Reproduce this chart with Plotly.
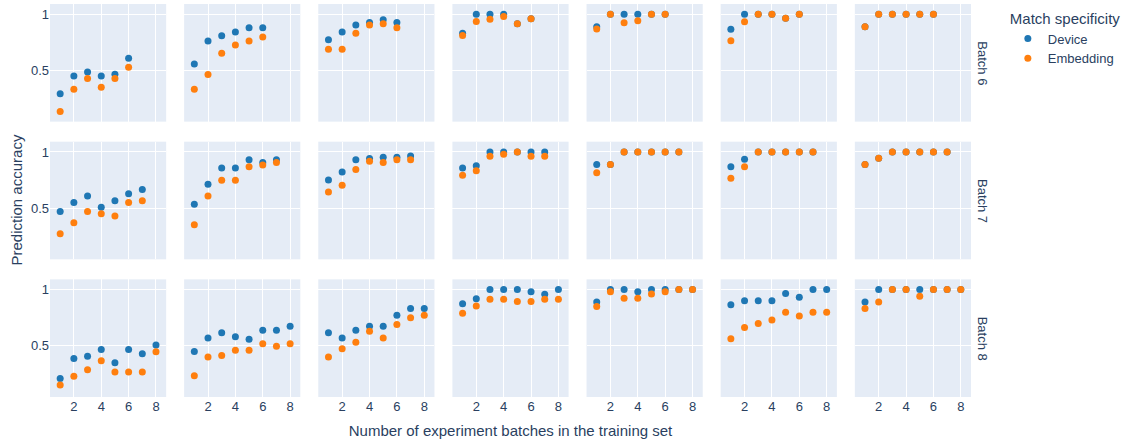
import plotly.graph_objects as go
from plotly.subplots import make_subplots

batches = ["Batch 6", "Batch 7", "Batch 8"]
series_names = ["Device", "Embedding"]
colors = ["#1f77b4", "#ff7f0e"]

# values[batch][column] -> list of accuracies at x = 1..n
device = {
    "Batch 6": [
        [0.294, 0.451, 0.488, 0.451, 0.468, 0.608],
        [0.558, 0.762, 0.808, 0.843, 0.881, 0.881],
        [0.773, 0.843, 0.904, 0.927, 0.951, 0.927],
        [0.831, 1.0, 1.0, 1.0, 0.916, 0.959],
        [0.890, 1.0, 1.0, 1.0, 1.0, 1.0],
        [0.866, 1.0, 1.0, 1.0, 0.965, 1.0],
        [0.890, 1.0, 1.0, 1.0, 1.0, 1.0],
    ],
    "Batch 7": [
        [0.471, 0.550, 0.608, 0.509, 0.567, 0.629, 0.667],
        [0.535, 0.713, 0.857, 0.857, 0.930, 0.906, 0.930],
        [0.751, 0.822, 0.930, 0.942, 0.953, 0.953, 0.965],
        [0.857, 0.877, 1.0, 1.0, 1.0, 1.0, 1.0],
        [0.889, 0.889, 1.0, 1.0, 1.0, 1.0, 1.0],
        [0.868, 0.936, 1.0, 1.0, 1.0, 1.0, 1.0],
        [0.889, 0.944, 1.0, 1.0, 1.0, 1.0, 1.0],
    ],
    "Batch 8": [
        [0.211, 0.389, 0.409, 0.468, 0.351, 0.468, 0.430, 0.509],
        [0.450, 0.570, 0.617, 0.582, 0.558, 0.640, 0.640, 0.675],
        [0.617, 0.570, 0.640, 0.675, 0.675, 0.772, 0.833, 0.833],
        [0.874, 0.918, 1.0, 1.0, 1.0, 0.980, 0.959, 1.0],
        [0.889, 1.0, 1.0, 0.980, 1.0, 1.0, 1.0, 1.0],
        [0.865, 0.901, 0.901, 0.901, 0.965, 0.933, 1.0, 1.0],
        [0.889, 1.0, 1.0, 1.0, 1.0, 1.0, 1.0, 1.0],
    ],
}
embedding = {
    "Batch 6": [
        [0.137, 0.334, 0.430, 0.352, 0.430, 0.529],
        [0.334, 0.465, 0.654, 0.727, 0.762, 0.797],
        [0.689, 0.689, 0.831, 0.904, 0.916, 0.881],
        [0.811, 0.936, 0.956, 0.980, 0.916, 0.959],
        [0.869, 1.0, 0.924, 0.942, 1.0, 1.0],
        [0.765, 0.933, 1.0, 1.0, 0.965, 1.0],
        [0.890, 1.0, 1.0, 1.0, 1.0, 1.0],
    ],
    "Batch 7": [
        [0.272, 0.371, 0.471, 0.450, 0.430, 0.550, 0.567],
        [0.354, 0.608, 0.749, 0.749, 0.868, 0.883, 0.906],
        [0.643, 0.705, 0.845, 0.918, 0.906, 0.930, 0.930],
        [0.792, 0.833, 0.962, 0.980, 1.0, 0.962, 0.962],
        [0.816, 0.889, 1.0, 1.0, 1.0, 1.0, 1.0],
        [0.766, 0.868, 1.0, 1.0, 1.0, 1.0, 1.0],
        [0.889, 0.944, 1.0, 1.0, 1.0, 1.0, 1.0],
    ],
    "Batch 8": [
        [0.152, 0.231, 0.289, 0.368, 0.269, 0.269, 0.269, 0.447],
        [0.234, 0.401, 0.415, 0.462, 0.462, 0.520, 0.497, 0.520],
        [0.401, 0.474, 0.532, 0.629, 0.570, 0.690, 0.749, 0.772],
        [0.789, 0.854, 0.915, 0.915, 0.895, 0.895, 0.915, 0.915],
        [0.851, 0.982, 0.924, 0.924, 0.962, 0.982, 1.0, 1.0],
        [0.564, 0.664, 0.699, 0.731, 0.798, 0.766, 0.798, 0.798],
        [0.833, 0.889, 1.0, 1.0, 0.942, 1.0, 1.0, 1.0],
    ],
}

n_cols = 7
fig = make_subplots(rows=3, cols=n_cols, shared_xaxes=True, shared_yaxes=True,
                    horizontal_spacing=0.0195, vertical_spacing=0.051)

for r, b in enumerate(batches, start=1):
    for c in range(n_cols):
        for s, (name, data) in enumerate(zip(series_names, [device, embedding])):
            ys = data[b][c]
            xs = list(range(1, len(ys) + 1))
            fig.add_trace(go.Scatter(
                x=xs, y=ys, mode="markers", name=name,
                marker=dict(color=colors[s], size=7),
                legendgroup=name, showlegend=(r == 1 and c == 0),
            ), row=r, col=c + 1)

fig.update_xaxes(matches="x")
fig.update_yaxes(matches="y")
fig.update_xaxes(title_text="Number of experiment batches in the training set", row=3, col=4)

# y-axis title as a paper annotation centred on the plotting area
fig.add_annotation(text="Prediction accuracy", x=0, xref="paper", y=0.5, yref="paper",
                   textangle=-90, showarrow=False, xanchor="center", yanchor="middle",
                   xshift=-34, font=dict(size=15))

for r, b in enumerate(batches, start=1):
    yaxis = fig.layout["yaxis" if r == 1 else "yaxis%d" % ((r - 1) * n_cols + 1)]
    d = yaxis.domain
    fig.add_annotation(text=b, x=1.0, xref="paper", y=(d[0] + d[1]) / 2, yref="paper",
                       textangle=90, showarrow=False, xanchor="left", yanchor="middle",
                       xshift=2, font=dict(size=13))

fig.update_layout(
    template="plotly",
    width=1124, height=444,
    margin=dict(l=50, r=153, t=4, b=47, autoexpand=False),
    legend=dict(title=dict(text="Match specificity", font=dict(size=15)),
                font=dict(size=13), tracegroupgap=0, x=1.04),
    font=dict(family="Arial, Liberation Sans, sans-serif", color="#2a3f5f", size=13),
)
fig.update_xaxes(title_font=dict(size=15), title_standoff=12)

fig.write_html("out.html", config={"displayModeBar": False},
               post_script="document.body.style.margin='0px';")
